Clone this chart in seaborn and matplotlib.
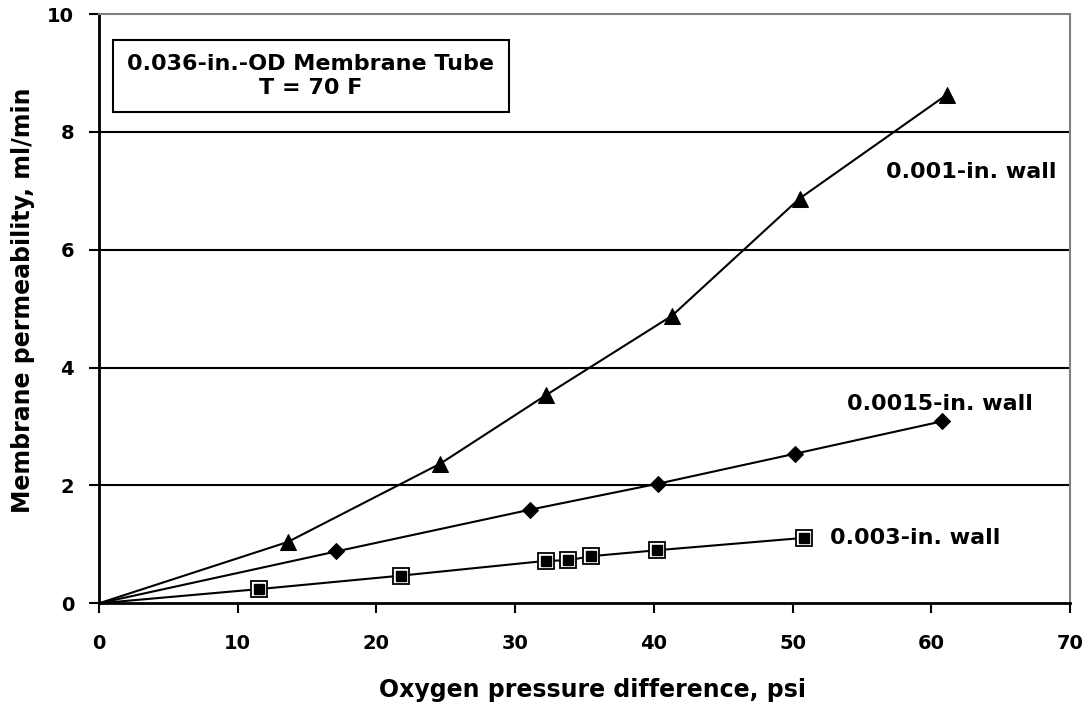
import numpy as np
import seaborn as sns
import matplotlib.pyplot as plt

# oxygen pressure difference (psi) and permeability (ml/min) per wall thickness
x_001 = [0, 13.6, 24.6, 32.2, 41.3, 50.5, 61.1]
y_001 = [0, 1.04, 2.37, 3.53, 4.88, 6.87, 8.63]

x_0015 = [0, 17.1, 31.1, 40.3, 50.2, 60.8]
y_0015 = [0, 0.88, 1.59, 2.03, 2.54, 3.09]

x_003 = [0, 11.5, 21.8, 32.2, 33.8, 35.5, 40.2, 50.8]
y_003 = [0, 0.24, 0.47, 0.72, 0.73, 0.80, 0.90, 1.11]

labels = ['0.001-in. wall', '0.0015-in. wall', '0.003-in. wall']

sns.set_style('white')
plt.rcParams['font.family'] = ['DejaVu Sans']
plt.rcParams['font.weight'] = 'bold'
plt.rcParams['text.color'] = 'black'
plt.rcParams['axes.labelcolor'] = 'black'
plt.rcParams['xtick.color'] = 'black'
plt.rcParams['ytick.color'] = 'black'

fig = plt.figure(figsize=(10.86, 7.07), dpi=100)
ax = fig.add_axes([0.0912, 0.1467, 0.8941, 0.8333])

for yv in [2, 4, 6, 8]:
    ax.axhline(yv, color='black', lw=1.5, zorder=1)

sns.lineplot(x=x_001, y=y_001, ax=ax, color='black', lw=1.5, marker='^',
             markersize=11, markerfacecolor='black', markeredgecolor='black',
             markevery=list(range(1, len(x_001))), sort=False, zorder=3)
sns.lineplot(x=x_0015, y=y_0015, ax=ax, color='black', lw=1.5, marker='D',
             markersize=8, markerfacecolor='black', markeredgecolor='black',
             markevery=list(range(1, len(x_0015))), sort=False, zorder=3)
sns.lineplot(x=x_003, y=y_003, ax=ax, color='black', lw=1.5, marker='s',
             markersize=11, markerfacecolor='white', markeredgecolor='black',
             markeredgewidth=1.3, markevery=list(range(1, len(x_003))),
             sort=False, zorder=3)
# inner fill of the square markers
ax.plot(x_003[1:], y_003[1:], ls='none', marker='s', markersize=7.5,
        markerfacecolor='black', markeredgecolor='black', zorder=4)

ax.set_xlim(0, 70)
ax.set_ylim(0, 10)
ax.set_xticks(np.arange(0, 71, 10))
ax.set_yticks(np.arange(0, 11, 2))
ax.tick_params(axis='both', direction='out', length=7, width=1.5,
               labelsize=14, bottom=True, left=True)
ax.tick_params(axis='x', pad=15)
ax.tick_params(axis='y', pad=11)
for lab in ax.get_xticklabels() + ax.get_yticklabels():
    lab.set_fontweight('bold')

for side in ['top', 'right']:
    ax.spines[side].set_color('#808080')
    ax.spines[side].set_linewidth(1.5)
for side in ['left', 'bottom']:
    ax.spines[side].set_color('black')
    ax.spines[side].set_linewidth(2)

ax.set_xlabel('Oxygen pressure difference, psi', fontsize=17, fontweight='bold')
ax.xaxis.set_label_coords(0.508, -0.127)
ax.set_ylabel('Membrane permeability, ml/min', fontsize=17, fontweight='bold')
ax.yaxis.set_label_coords(-0.066, 0.515)

ax.text(0.218, 0.895, '0.036-in.-OD Membrane Tube\nT = 70 F', transform=ax.transAxes,
        ha='center', va='center', fontsize=16, fontweight='bold', linespacing=1.2,
        bbox=dict(boxstyle='square,pad=0.65', facecolor='white', edgecolor='black', lw=1.5))

ax.text(56.7, 7.32, labels[0], fontsize=16, fontweight='bold', va='center', ha='left')
ax.text(53.9, 3.38, labels[1], fontsize=16, fontweight='bold', va='center', ha='left')
ax.text(52.7, 1.10, labels[2], fontsize=16, fontweight='bold', va='center', ha='left')

fig.savefig('out.png', dpi=100)
